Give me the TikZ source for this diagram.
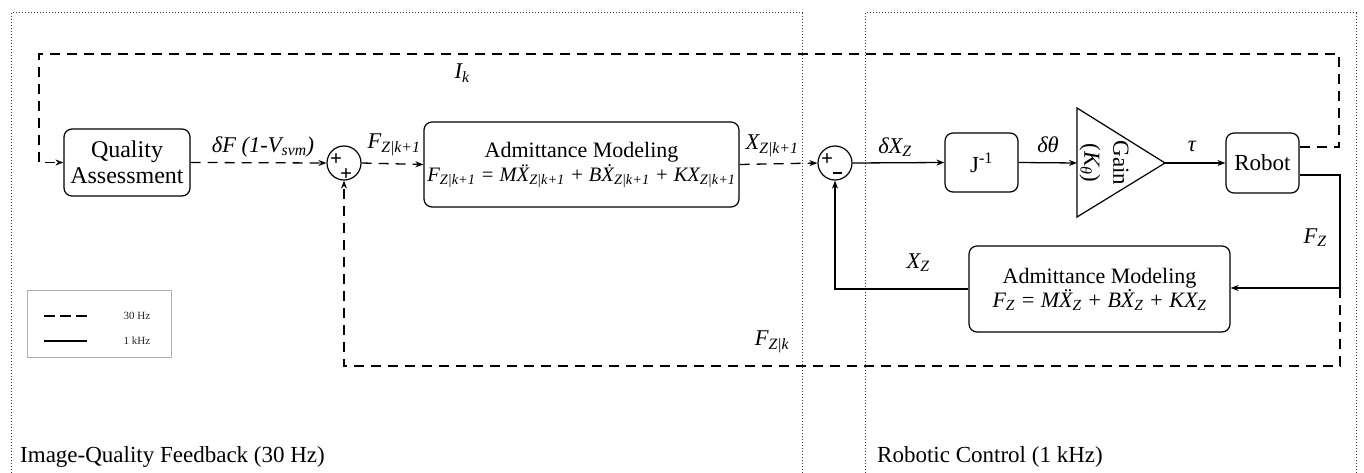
\documentclass[tikz,border=0pt]{standalone}
\usepackage{fontspec}
\setmainfont{Liberation Serif}
\usetikzlibrary{arrows.meta,calc}
\begin{document}
\begin{tikzpicture}[x=1pt,y=-1pt,
  lbl/.style={font=\fontsize{22.5}{26}\selectfont\itshape, inner sep=0pt},
  blk/.style={draw, rounded corners=8pt, line width=1.2pt, align=center, font=\fontsize{23}{26}\selectfont, inner sep=0pt},
  sig/.style={line width=1.3pt, -{Stealth[length=8pt,width=6pt]}},
  dsh/.style={dash pattern=on 10pt off 7pt},
  frm/.style={line width=1pt, dash pattern=on 0.8pt off 2.2pt, draw=black!80},
  sumn/.style={draw, circle, minimum size=34pt, inner sep=0pt, line width=1.2pt},
  sgn/.style={font=\fontsize{21}{21}\selectfont\bfseries, inner sep=0pt}]
\useasboundingbox (0,0) rectangle (1364,473);
% frames
\draw[frm] (11,473) -- (11,13) -- (802,13) -- (802,473);
\draw[frm] (865,473) -- (865,13) -- (1356,13) -- (1356,473);
\node[anchor=west, font=\fontsize{23}{26}\selectfont, inner sep=0pt] (t1) at (20,457) {Image-Quality Feedback (30 Hz)};
\node[anchor=west, font=\fontsize{23}{26}\selectfont, inner sep=0pt] (t2) at (877,457) {Robotic Control (1 kHz)};
% blocks
\node[blk, minimum width=126pt, minimum height=67pt, font=\fontsize{24}{26}\selectfont] (qa) at (127,162.5) {Quality\\Assessment};
\node[sumn] (s1) at (344,163) {};
\node[sgn] (s1a) at (336,160) {+};
\node[sgn] (s1b) at (346,175) {+};
\node[blk, minimum width=315pt, minimum height=85pt] (am1) at (581.5,164.5)
  {{\fontsize{22}{24}\selectfont Admittance Modeling}\\[-2pt]{\fontsize{20.5}{24}\selectfont\itshape F\textsubscript{Z|k+1} = M\"{X}\textsubscript{Z|k+1} + B\.{X}\textsubscript{Z|k+1} + KX\textsubscript{Z|k+1}}};
\node[sumn] (s2) at (835,163) {};
\node[sgn] (s2a) at (827,160) {+};
\node[inner sep=0pt] (s2b) at (837,173) {\rule{9pt}{2.6pt}};
\node[blk, minimum width=73pt, minimum height=59pt] (jb) at (981.5,162.5) {J\textsuperscript{-1}};
\coordinate (gin) at (1077,163);
\coordinate (gout) at (1165,163);
\draw[line width=1.2pt, line join=miter] (1077,108) -- (gout) -- (1077,217) -- cycle;
\node[rotate=-90, align=center, font=\fontsize{23}{29}\selectfont, inner sep=0pt] (gain) at (1104,163) {Gain\\(\textit{K\textsubscript{θ}})};
\node[blk, minimum width=73pt, minimum height=60pt] (rb) at (1262.5,163) {Robot};
\node[blk, minimum width=261pt, minimum height=86pt] (am2) at (1099.5,289)
  {{\fontsize{22}{24}\selectfont Admittance Modeling}\\[-2pt]{\fontsize{22}{24}\selectfont\itshape F\textsubscript{Z} = M\"{X}\textsubscript{Z} + B\.{X}\textsubscript{Z} + KX\textsubscript{Z}}};
% connectors
\coordinate (tl) at (39,54);
\coordinate (tr) at (1339,54);
\coordinate (rc) at (1340,288);
\coordinate (rd) at (1340,366);
\draw[sig,dsh] ($(rb.east)+(0,-16)$) -| (tr) -- (tl) |- (qa.west);
\draw[sig,dsh] (qa.east) -- (s1.west);
\draw[sig,dsh] (s1.east) -- (am1.west);
\draw[sig,dsh] (am1.east) -- (s2.west);
\draw[sig] (s2.east) -- (jb.west);
\draw[sig] (jb.east) -- (gin);
\draw[sig] (gout) -- (rb.west);
\draw[sig] ($(rb.east)+(0,12)$) -| (rc) -- (rc -| am2.east);
\draw[sig,dsh] (rc) -- (rd) -| (s1.south);
\draw[sig] (am2.west) -| (s2.south);
% labels
\node[lbl] (lIk) at (462,73) {I\textsubscript{k}};
\node[lbl] (ldf) at (263,147) {δF (1-V\textsubscript{svm})};
\node[lbl] (lfk1) at (394,145) {F\textsubscript{Z|k+1}};
\node[lbl] (lxk1) at (772,146) {X\textsubscript{Z|k+1}};
\node[lbl] (ldx) at (895,147) {δX\textsubscript{Z}};
\node[lbl] (ldt) at (1048,145) {δθ};
\node[lbl] (ltau) at (1192,146) {τ};
\node[lbl] (lfz) at (1315,238) {F\textsubscript{Z}};
\node[lbl] (lxz) at (918,263) {X\textsubscript{Z}};
\node[lbl] (lfzk) at (772,342) {F\textsubscript{Z|k}};
% legend
\node[draw=black!30, line width=0.8pt, minimum width=144pt, minimum height=67pt, inner sep=0pt] (leg) at (99,323.5) {};
\coordinate (la1) at (44,316); \coordinate (la2) at (87,316);
\coordinate (lb1) at (44,341); \coordinate (lb2) at (87,341);
\draw[line width=1.3pt, dash pattern=on 11pt off 5pt] (la1) -- (la2);
\draw[line width=1.3pt] (lb1) -- (lb2);
\node[font=\fontsize{11}{12}\selectfont, text=black!85, inner sep=0pt] (lg1) at (137,316) {30 Hz};
\node[font=\fontsize{11}{12}\selectfont, text=black!85, inner sep=0pt] (lg2) at (137,341) {1 kHz};
\end{tikzpicture}
\end{document}
